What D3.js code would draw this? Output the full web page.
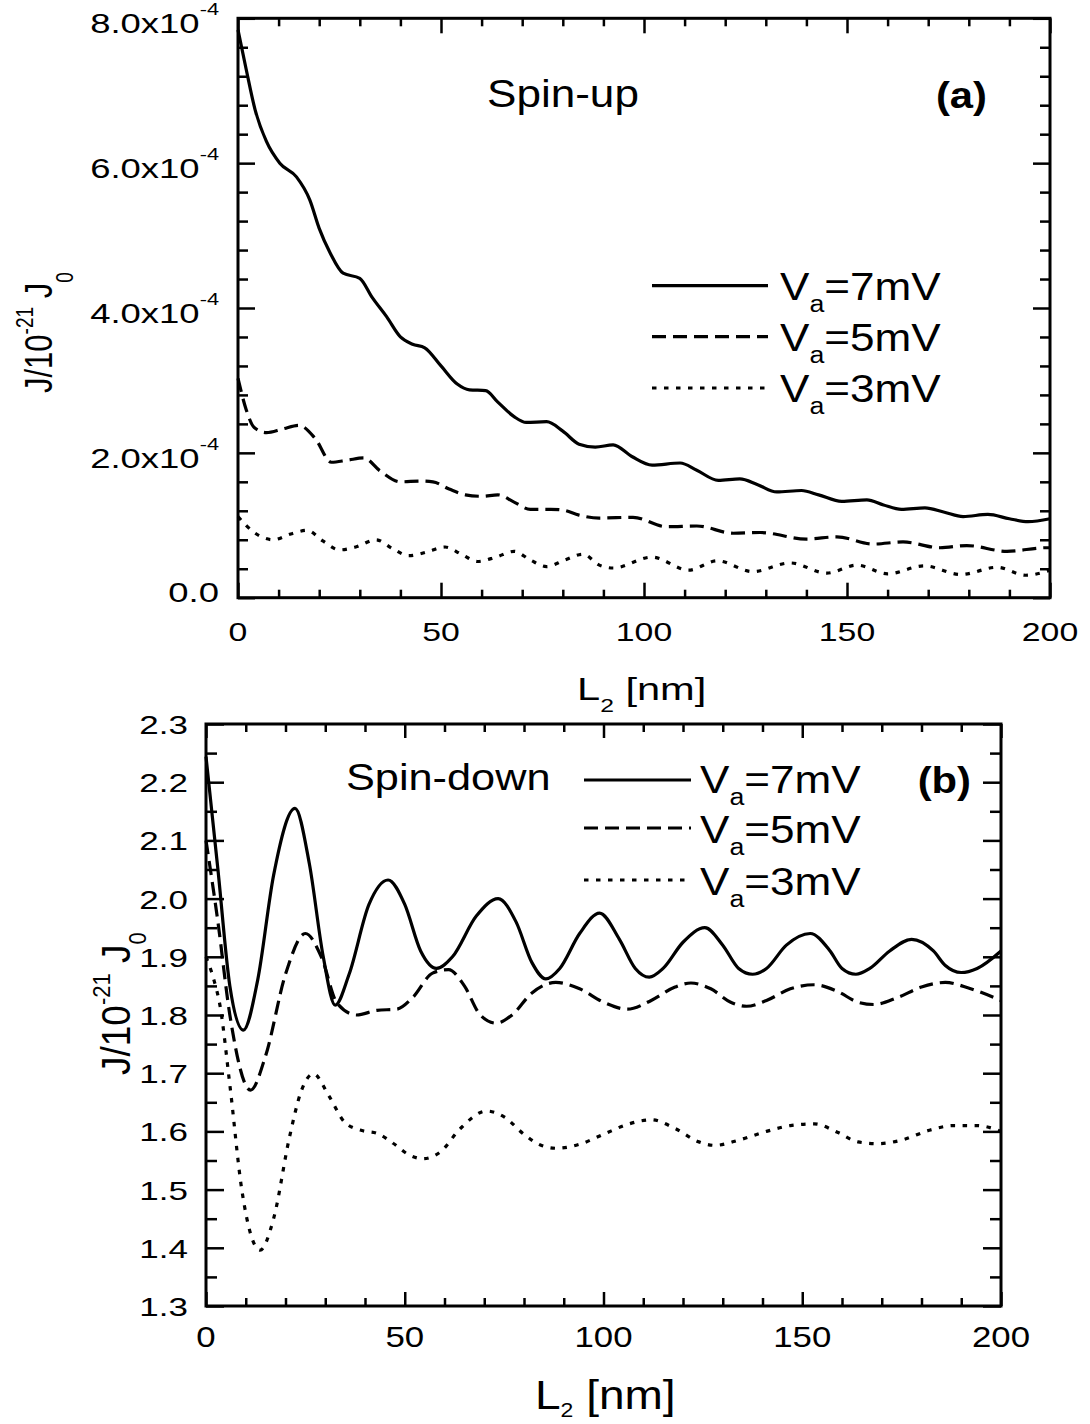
<!DOCTYPE html>
<html><head><meta charset="utf-8">
<script src="https://cdn.jsdelivr.net/npm/d3@7"></script>
<style>body{margin:0;background:#fff}</style>
</head><body>
<script>
// ---------------- DATA ----------------
// Panel (a) Spin-up: J in units of 1e-4 (axis labels "x10^-4"), L2 in nm
const upV7 = [[0,7.84],[2,7.3],[4.2,6.74],[7,6.3],[10.3,6.0],[14.4,5.81],[17.7,5.49],[20,5.1],[22.7,4.76],[25.9,4.48],[30,4.41],[33,4.15],[36.6,3.88],[40,3.6],[43,3.5],[46,3.45],[50,3.2],[54,2.95],[57,2.87],[61,2.86],[64,2.7],[68,2.5],[71,2.42],[76,2.43],[80,2.3],[84,2.12],[88,2.08],[92.4,2.11],[97,1.95],[102,1.83],[108.9,1.86],[113,1.76],[118.3,1.62],[123.6,1.64],[128,1.56],[132.7,1.46],[138.8,1.48],[143,1.42],[148.7,1.33],[154.9,1.35],[159,1.28],[163.4,1.22],[169.2,1.24],[174,1.18],[178.6,1.12],[184.7,1.15],[190,1.09],[194.6,1.05],[200,1.09]];
const upV5 = [[0,3.03],[2,2.6],[4,2.35],[7,2.28],[11,2.33],[15,2.38],[19,2.2],[23,1.87],[27,1.9],[31,1.93],[35,1.75],[40,1.6],[45,1.61],[48,1.6],[52,1.5],[56,1.42],[60,1.4],[64,1.42],[68,1.32],[72,1.22],[77,1.22],[80,1.21],[84,1.14],[89,1.1],[97.3,1.11],[105.6,0.98],[113,0.99],[122,0.89],[128.6,0.9],[140,0.81],[147.5,0.84],[156.4,0.74],[163.8,0.77],[172.9,0.69],[179.5,0.72],[189.4,0.64],[199,0.69],[200,0.69]];
const upV3 = [[0,1.12],[4,0.9],[8.7,0.8],[13,0.88],[17,0.93],[21,0.78],[25,0.66],[29,0.7],[34,0.8],[38,0.68],[42,0.58],[46.5,0.63],[51,0.7],[55,0.6],[59,0.5],[63.5,0.56],[68,0.64],[72,0.52],[76,0.43],[80.5,0.52],[85,0.6],[89,0.45],[92.4,0.41],[102,0.56],[111,0.38],[118,0.51],[126.8,0.36],[136,0.48],[145,0.34],[152.5,0.45],[160,0.33],[169,0.44],[178,0.32],[187,0.42],[194,0.31],[200,0.38]];
// Panel (b) Spin-down: J in units of 1e-21 J0
const dnV7 = [[0,2.244],[3,2.05],[6,1.85],[9.4,1.774],[13,1.86],[17,2.04],[22.4,2.155],[26,2.06],[29.5,1.9],[32.5,1.817],[36,1.87],[41,1.99],[45.8,2.032],[50,1.99],[54,1.91],[58,1.88],[62,1.9],[68,1.97],[73.5,2.0],[78,1.96],[82,1.89],[85.5,1.862],[89,1.88],[94,1.94],[99,1.975],[104,1.93],[108,1.88],[111.5,1.865],[115,1.88],[120,1.925],[125.5,1.95],[130,1.92],[134,1.88],[137.5,1.87],[141,1.88],[146,1.92],[152,1.94],[157,1.91],[160,1.88],[163.5,1.87],[167,1.88],[172,1.91],[177.5,1.93],[183,1.91],[186,1.885],[190,1.873],[194,1.88],[200,1.91]];
const dnV5 = [[0,2.1],[3,1.96],[6,1.8],[11.2,1.671],[15,1.73],[20,1.87],[25,1.94],[29,1.9],[33,1.82],[37.9,1.8],[43,1.808],[48,1.81],[52,1.83],[57,1.872],[61,1.878],[65,1.85],[69,1.8],[73,1.786],[77,1.8],[82,1.838],[88,1.856],[94,1.845],[100,1.822],[106,1.81],[112,1.825],[118,1.848],[122,1.855],[127,1.845],[132,1.822],[136,1.815],[141,1.825],[147,1.845],[153,1.852],[159,1.84],[164,1.822],[168,1.818],[174,1.83],[180,1.848],[186,1.856],[192,1.846],[200,1.825]];
const dnV3 = [[0,1.9],[2,1.86],[3.5,1.817],[6,1.68],[9,1.5],[13.6,1.396],[17,1.45],[21,1.59],[24,1.67],[27,1.699],[31,1.66],[35,1.615],[39.5,1.601],[42.9,1.597],[47,1.58],[51,1.56],[54.6,1.553],[59,1.565],[64,1.605],[70.6,1.635],[75,1.625],[80,1.595],[84,1.577],[88.2,1.571],[94,1.578],[100,1.595],[106,1.612],[112,1.62],[118,1.605],[124,1.582],[128,1.576],[134,1.585],[141,1.6],[147,1.61],[153,1.613],[159,1.598],[164,1.582],[169,1.579],[175,1.585],[182,1.602],[188,1.61],[194,1.61],[200,1.6]];

const xTicksMajor = [0,50,100,150,200];
const xTickLabels = ["0","50","100","150","200"];
const upYMajor = [0,2,4,6,8];
const upYTickLabels = ["0.0","2.0x10","4.0x10","6.0x10","8.0x10"];
const upYTickSup = ["","-4","-4","-4","-4"];
const dnYMajor = [1.3,1.4,1.5,1.6,1.7,1.8,1.9,2.0,2.1,2.2,2.3];
const dnYTickLabels = ["1.3","1.4","1.5","1.6","1.7","1.8","1.9","2.0","2.1","2.2","2.3"];
const seriesNames = ["7mV","5mV","3mV"];

// ---------------- DRAW ----------------
const FONT = "'Liberation Sans', Arial, Helvetica, sans-serif";
const svg = d3.select("body").append("svg").attr("width",1090).attr("height",1424)
  .style("background","#fff");

function label(parent, x, y, parts, o) {
  const g = parent.append("g").attr("transform",
    `translate(${x},${y}) scale(${o.sx||1},1)` + (o.rot ? " rotate(-90)" : ""));
  const t = g.append("text").attr("font-size", o.size).attr("font-family", FONT)
    .attr("text-anchor", o.anchor || "start").attr("fill","#000")
    .attr("font-weight", o.bold ? "bold" : "normal");
  let cur = 0;
  parts.forEach(p => {
    if (typeof p === "string") p = {t:p};
    const off = p.shift || 0;
    const ts = t.append("tspan").text(p.t).attr("dy", off - cur);
    if (p.size) ts.attr("font-size", p.size);
    cur = off;
  });
  return g;
}

const styles = [
  {dash:null},
  {dash:"14,7"},
  {dash:"4.5,7.5"}
];

function panel(cfg) {
  const {x, y} = cfg;
  const g = svg.append("g");
  const [x0,x1] = x.range(), [y0,y1] = y.range();
  const xMinor = d3.range(0,201,10).filter(v => v%50!==0);
  const mk = (axisFn, scale, vals, size, tr) => {
    const a = g.append("g").attr("transform", tr)
      .call(axisFn(scale).tickValues(vals).tickSize(size).tickFormat(""));
    a.select(".domain").remove();
    a.selectAll(".tick line").attr("stroke","#000").attr("stroke-width",2.5);
  };
  mk(d3.axisBottom, x, xTicksMajor, -cfg.xMaj, `translate(0,${y0})`);
  mk(d3.axisBottom, x, xMinor, -cfg.xMin, `translate(0,${y0})`);
  mk(d3.axisTop, x, xTicksMajor, -cfg.xMaj, `translate(0,${y1})`);
  mk(d3.axisTop, x, xMinor, -cfg.xMin, `translate(0,${y1})`);
  mk(d3.axisLeft, y, cfg.yMajor, -cfg.yMaj, `translate(${x0},0)`);
  mk(d3.axisLeft, y, cfg.yMinor, -cfg.yMin, `translate(${x0},0)`);
  mk(d3.axisRight, y, cfg.yMajor, -cfg.yMaj, `translate(${x1},0)`);
  mk(d3.axisRight, y, cfg.yMinor, -cfg.yMin, `translate(${x1},0)`);
  const line = d3.line().x(d => x(d[0])).y(d => y(d[1])).curve(d3.curveMonotoneX);
  cfg.series.forEach((s,i) => {
    g.append("path").attr("d", line(s)).attr("fill","none").attr("stroke","#000")
      .attr("stroke-width",3.2).attr("stroke-dasharray", styles[i].dash);
  });
  g.append("rect").attr("x",x0).attr("y",y1).attr("width",x1-x0).attr("height",y0-y1)
    .attr("fill","none").attr("stroke","#000").attr("stroke-width",3);
  const L = cfg.legend;
  seriesNames.forEach((n,i) => {
    g.append("line").attr("x1",L.x0).attr("x2",L.x1).attr("y1",L.ys[i]).attr("y2",L.ys[i])
      .attr("stroke","#000").attr("stroke-width",3.2).attr("stroke-dasharray", styles[i].dash);
    label(g, L.tx, L.bs[i], ["V",{t:"a",size:23,shift:12},{t:"="+n,shift:0}], {size:38, sx:1.16});
  });
  return g;
}

// Panel (a)
const xA = d3.scaleLinear().domain([0,200]).range([238,1050]);
const yA = d3.scaleLinear().domain([0,8]).range([597.7,18.3]);
panel({x:xA, y:yA, series:[upV7,upV5,upV3],
  xMaj:15, xMin:8, yMaj:17, yMin:10,
  yMajor: upYMajor, yMinor: d3.range(0,8.01,0.4).filter(v => Math.abs(v/2-Math.round(v/2))>1e-6),
  legend:{x0:652,x1:768,ys:[285.7,336.7,388],tx:780,bs:[300,350.7,401.7]}});
upYMajor.forEach((v,i) => {
  const sup = upYTickSup[i];
  label(svg, 219, yA(v) + (sup ? 15 : 4.5),
    sup ? [upYTickLabels[i], {t:sup,size:17,shift:-18}] : [upYTickLabels[i]],
    {size:28.5, sx:1.28, anchor:"end"});
});
xTicksMajor.forEach((v,i) => label(svg, xA(v), 640.5, [xTickLabels[i]], {size:26, sx:1.3, anchor:"middle"}));
label(svg, 577, 699.5, ["L",{t:"2",size:19,shift:12},{t:" [nm]",shift:0}], {size:32, sx:1.3});
label(svg, 52, 393, ["J/10",{t:"-21",size:19,shift:-15},{t:" J",shift:0},{t:"0",size:19,shift:17}], {size:31, sx:1.25, rot:true});
label(svg, 487, 107, ["Spin-up"], {size:38, sx:1.16});
label(svg, 987, 108, ["(a)"], {size:36, sx:1.16, bold:true, anchor:"end"});

// Panel (b)
const xB = d3.scaleLinear().domain([0,200]).range([206,1001]);
const yB = d3.scaleLinear().domain([1.3,2.3]).range([1306,724]);
panel({x:xB, y:yB, series:[dnV7,dnV5,dnV3],
  xMaj:14, xMin:8, yMaj:18, yMin:11,
  yMajor: dnYMajor, yMinor: d3.range(1.35,2.3,0.1),
  legend:{x0:584,x1:691,ys:[780,828,880],tx:700,bs:[793,843,895]}});
dnYMajor.forEach((v,i) => label(svg, 188, yB(v)+10, [dnYTickLabels[i]], {size:25, sx:1.4, anchor:"end"}));
xTicksMajor.forEach((v,i) => label(svg, xB(v), 1347, [xTickLabels[i]], {size:29, sx:1.2, anchor:"middle"}));
label(svg, 535, 1409, ["L",{t:"2",size:20,shift:8},{t:" [nm]",shift:0}], {size:40, sx:1.15});
label(svg, 130, 1075, ["J/10",{t:"-21",size:22,shift:-18},{t:" J",shift:0},{t:"0",size:22,shift:14}], {size:37, sx:1.12, rot:true});
label(svg, 346, 790, ["Spin-down"], {size:37, sx:1.17});
label(svg, 971, 793, ["(b)"], {size:36, sx:1.16, bold:true, anchor:"end"});
</script>
</body></html>
